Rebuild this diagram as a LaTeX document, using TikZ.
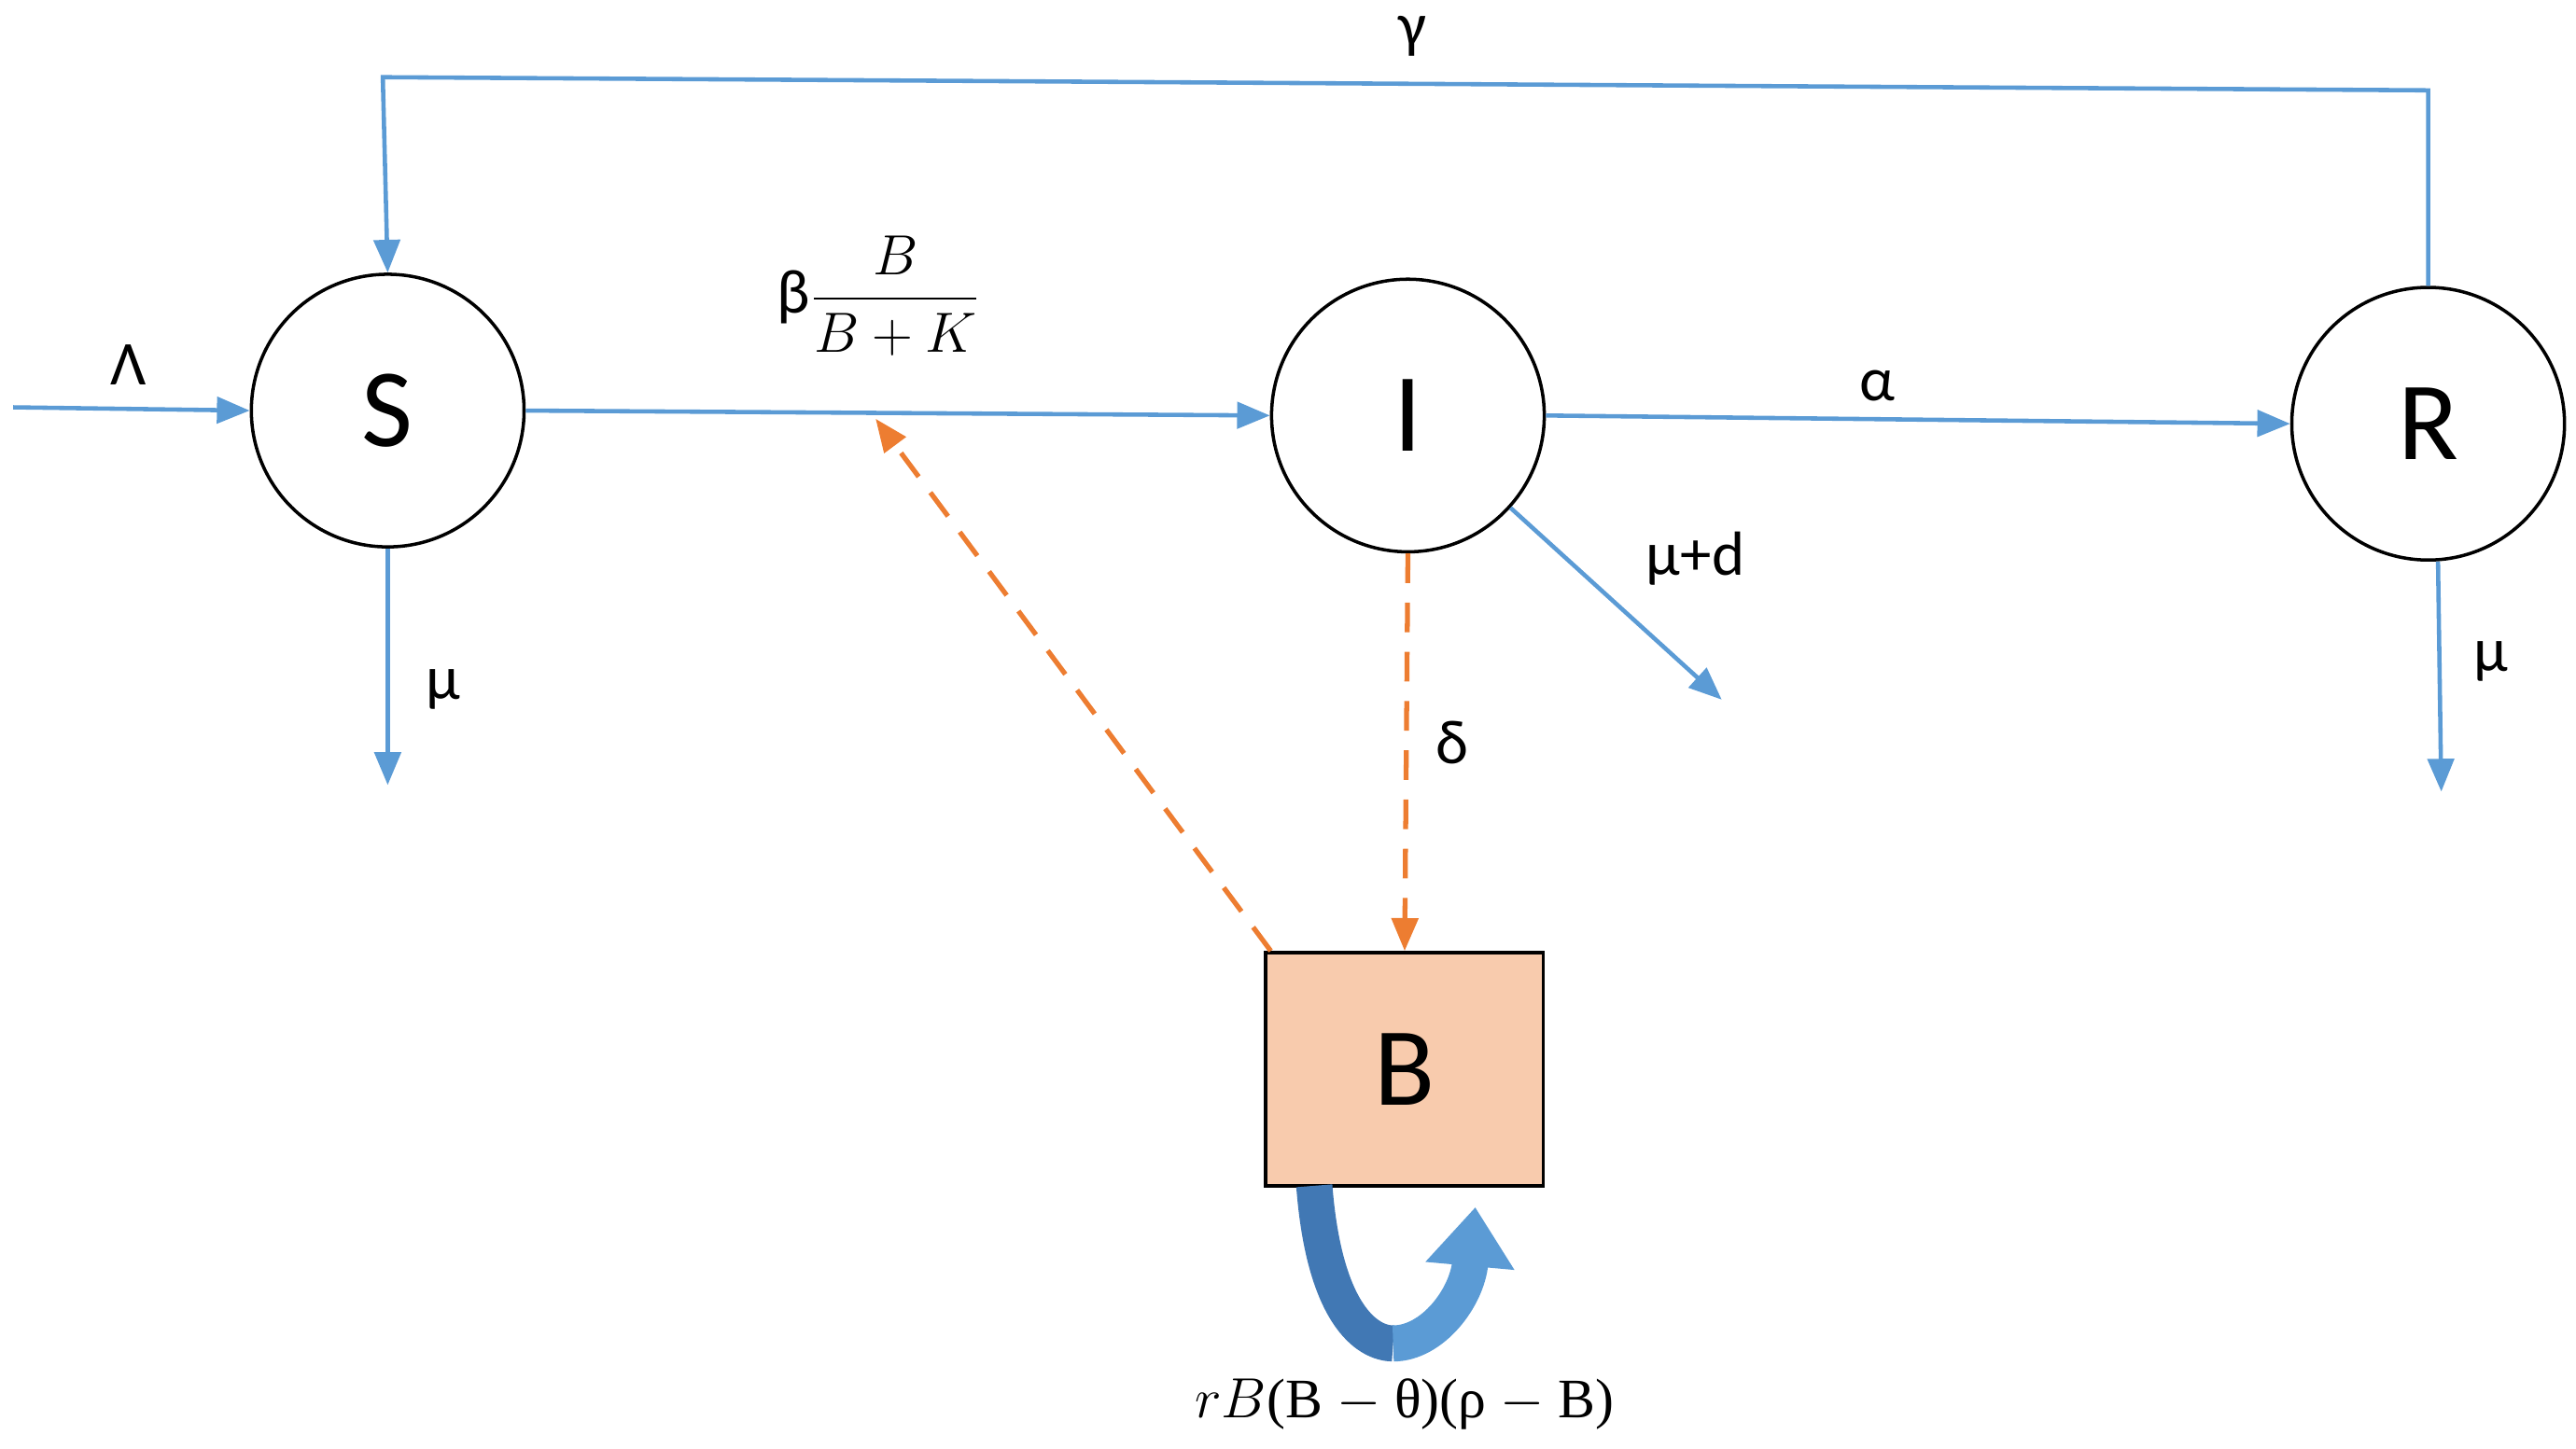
\documentclass[tikz,border=0pt]{standalone}
\usepackage{fontspec}
\setmainfont{Carlito}
\newfontfamily\ser{Liberation Serif}
\usetikzlibrary{arrows.meta}
\definecolor{bl}{RGB}{91,155,213}
\definecolor{dbl}{RGB}{65,120,180}
\definecolor{og}{RGB}{237,125,49}
\definecolor{pe}{RGB}{248,203,173}
\begin{document}
\begin{tikzpicture}[x=0.0176cm,y=-0.0176cm,
 circ/.style={circle,draw,line width=1pt,minimum size=166*0.0176cm,inner sep=0pt,font=\fontsize{34}{40}\selectfont},
 ar/.style={draw=bl,line width=1.3pt,-{Triangle[length=10pt,width=8pt]}},
 da/.style={draw=og,line width=1.5pt,dash pattern=on 9pt off 6pt,-{Triangle[length=10pt,width=8pt]}},
 lb/.style={font=\fontsize{19}{22}\selectfont}]
\useasboundingbox (0,0) rectangle (1568,882);
\node[circ] (S) at (236,250) {S};
\node[circ] (I) at (857,253) {I};
\node[circ] (R) at (1478,258) {R};
\node[draw,line width=1pt,fill=pe,minimum width=169*0.0176cm,minimum height=142*0.0176cm,font=\fontsize{34}{40}\selectfont] (B) at (855,651) {B};
\coordinate (lin) at (8,248);
\coordinate (sd) at (236,478);
\coordinate (rd) at (1486,482);
\coordinate (id) at (1048,426);
\coordinate (t1) at (1478,55);
\coordinate (t2) at (233,47);
\coordinate (mid) at (533,255);
\draw[ar] (lin) -- (S.west);
\draw[ar] (S.east) -- (I.west);
\draw[ar] (I.east) -- (R.west);
\draw[ar] (R.north) -- (t1) -- (t2) -- (S.north);
\draw[ar] (S.south) -- (sd);
\draw[ar] (R.south) ++(6,0) -- (rd);
\draw[ar] (I.-42) -- (id);
\draw[da] (I.south) -- (B.north);
\draw[da] (B.north west) ++(4,0) -- (mid);
\draw[draw=dbl,line width=11pt] (800,722) .. controls (806,800) and (832,818) .. (848,818);
\draw[draw=bl,line width=11pt,-{Triangle[length=18pt,width=26pt]}] (848,818) .. controls (872,818) and (893,790) .. (898,735);
\node[lb] (lL) at (78,222) {Λ};
\node[lb] (lb) at (535,180) {β$\displaystyle\frac{B}{B+K}$};
\node[lb] (la) at (1143,235) {α};
\node[lb] (lg) at (860,22) {γ};
\node[lb] (lm1) at (270,420) {μ};
\node[lb] (lm2) at (1516,403) {μ};
\node[lb] (lmd) at (1032,340) {μ+d};
\node[lb] (ld) at (884,452) {δ};
\node[font=\fontsize{17}{20}\selectfont] (lr) at (855,855) {$rB$\ser(B $-$ θ)(ρ $-$ B)};
\end{tikzpicture}
\end{document}
